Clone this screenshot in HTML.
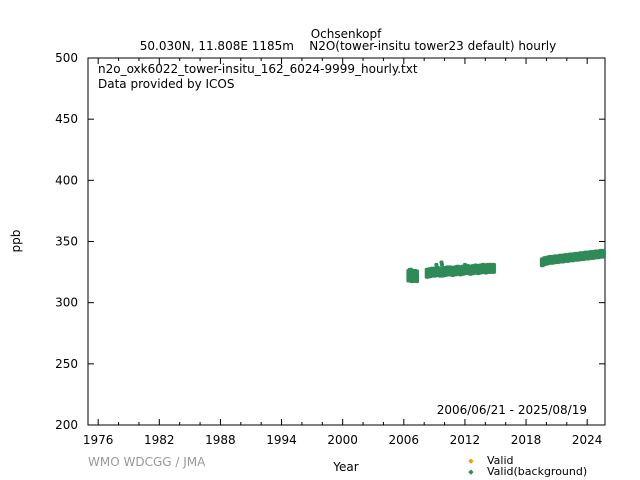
<!DOCTYPE html>
<html><head><meta charset="utf-8"><style>
body{margin:0;background:#fff;}
svg{display:block;font-family:"DejaVu Sans","Liberation Sans",sans-serif;}
text{white-space:pre;}
</style></head><body>
<svg id="chart" width="640" height="480">
<text x="346" y="38" font-size="12" text-anchor="middle">Ochsenkopf</text>
<text x="348" y="50" font-size="12" text-anchor="middle" xml:space="preserve">50.030N, 11.808E 1185m    N2O(tower-insitu tower23 default) hourly</text>
<rect x="88" y="58" width="517" height="367" fill="none" stroke="#000" stroke-width="1"/>
<text x="98" y="73" font-size="12">n2o_oxk6022_tower-insitu_162_6024-9999_hourly.txt</text>
<text x="98" y="88" font-size="12">Data provided by ICOS</text>
<text x="587" y="414" font-size="12" text-anchor="end">2006/06/21 - 2025/08/19</text>
<text x="20" y="241" font-size="12" text-anchor="middle" transform="rotate(-90 20 241)">ppb</text>
<text x="346" y="471" font-size="12" text-anchor="middle">Year</text>
<text x="88" y="466" font-size="12" fill="#999">WMO WDCGG / JMA</text>
<text x="471" y="463" font-size="7" fill="#f0a000" text-anchor="middle">◆</text>
<text x="487" y="464" font-size="11">Valid</text>
<text x="471" y="474" font-size="7" fill="#2e8b57" text-anchor="middle">◆</text>
<text x="487" y="475" font-size="11">Valid(background)</text>
<g id="axes"></g><g id="marks"></g>
</svg>
<script>
const yTicks=[200,250,300,350,400,450,500];
const xTickYears=[1976,1982,1988,1994,2000,2006,2012,2018,2024];
const seg1Dates=[2006.5,2006.65,2006.8,2006.95,2007.1,2007.25];
const seg1Vals=[322,323,321.5,322,322,321.5];
const seg2Vals=[324,324.5,325,325,325.5,325,325,325.5,326,326,325.5,326,326.5,326,326.5,327,327,326.5,327,327.5,327,327.5,328,327.5,328,328,328];
const seg3Vals=[333,334,334.5,335,335,335.5,335.5,336,336,336.5,336.5,337,337,337.5,337.5,338,338,338.5,338.5,339,339,339.5,339.5,340,340];
const outlierDates=[2009.2,2009.7,2009.75,2012.0,2013.3];
const outlierVals=[331,333,331,331,330];
const X0=88,X1=605,Y0=425,Y1=58,T0=1975,T1=2025.75,V0=200,V1=500;
const xs=t=>X0+(t-T0)/(T1-T0)*(X1-X0);
const ys=v=>Y0-(v-V0)/(V1-V0)*(Y0-Y1);
const NS="http://www.w3.org/2000/svg";
const axes=document.getElementById('axes'),marks=document.getElementById('marks');
function mk(tag,attrs,parent){const e=document.createElementNS(NS,tag);for(const k in attrs)e.setAttribute(k,attrs[k]);parent.appendChild(e);return e;}
yTicks.forEach(v=>{
  const y=ys(v);
  const l=mk('line',{x1:X0,x2:X0+6,y1:y,y2:y,stroke:'#000'},axes);
  
  
  const r=mk('line',{x1:X1-6,x2:X1,y1:y,y2:y,stroke:'#000'},axes);
  
  
  const t=mk('text',{x:X0-10,y:y+4,'font-size':12,'text-anchor':'end'},axes);t.textContent=v;
  
  
});
for(let yr=1976;yr<=2025;yr+=2){
  const x=xs(yr),major=xTickYears.includes(yr),len=major?6:3;
  const l=mk('line',{x1:x,x2:x,y1:Y0,y2:Y0-len,stroke:'#000'},axes);
  
  
  const u=mk('line',{x1:x,x2:x,y1:Y1,y2:Y1+len,stroke:'#000'},axes);
  
  
}
xTickYears.forEach(yr=>{
  const t=mk('text',{x:xs(yr),y:Y0+19,'font-size':12,'text-anchor':'middle'},axes);t.textContent=yr;
  
  
});
function band(t,v,half,w){
  const r=mk('rect',{x:xs(t)-w/2,y:ys(v+half),width:w,height:ys(v-half)-ys(v+half),fill:'#2e8b57',rx:1.5},marks);
  
  
}
seg1Vals.forEach((v,i)=>band(seg1Dates[i],v,5.5,5));
seg2Vals.forEach((v,i)=>band(2008.3+i*0.25,v,4.5,5));
seg3Vals.forEach((v,i)=>band(2019.6+i*0.25,v,4,5));
outlierVals.forEach((v,i)=>band(outlierDates[i],v,1.5,4));
</script>
</body></html>
